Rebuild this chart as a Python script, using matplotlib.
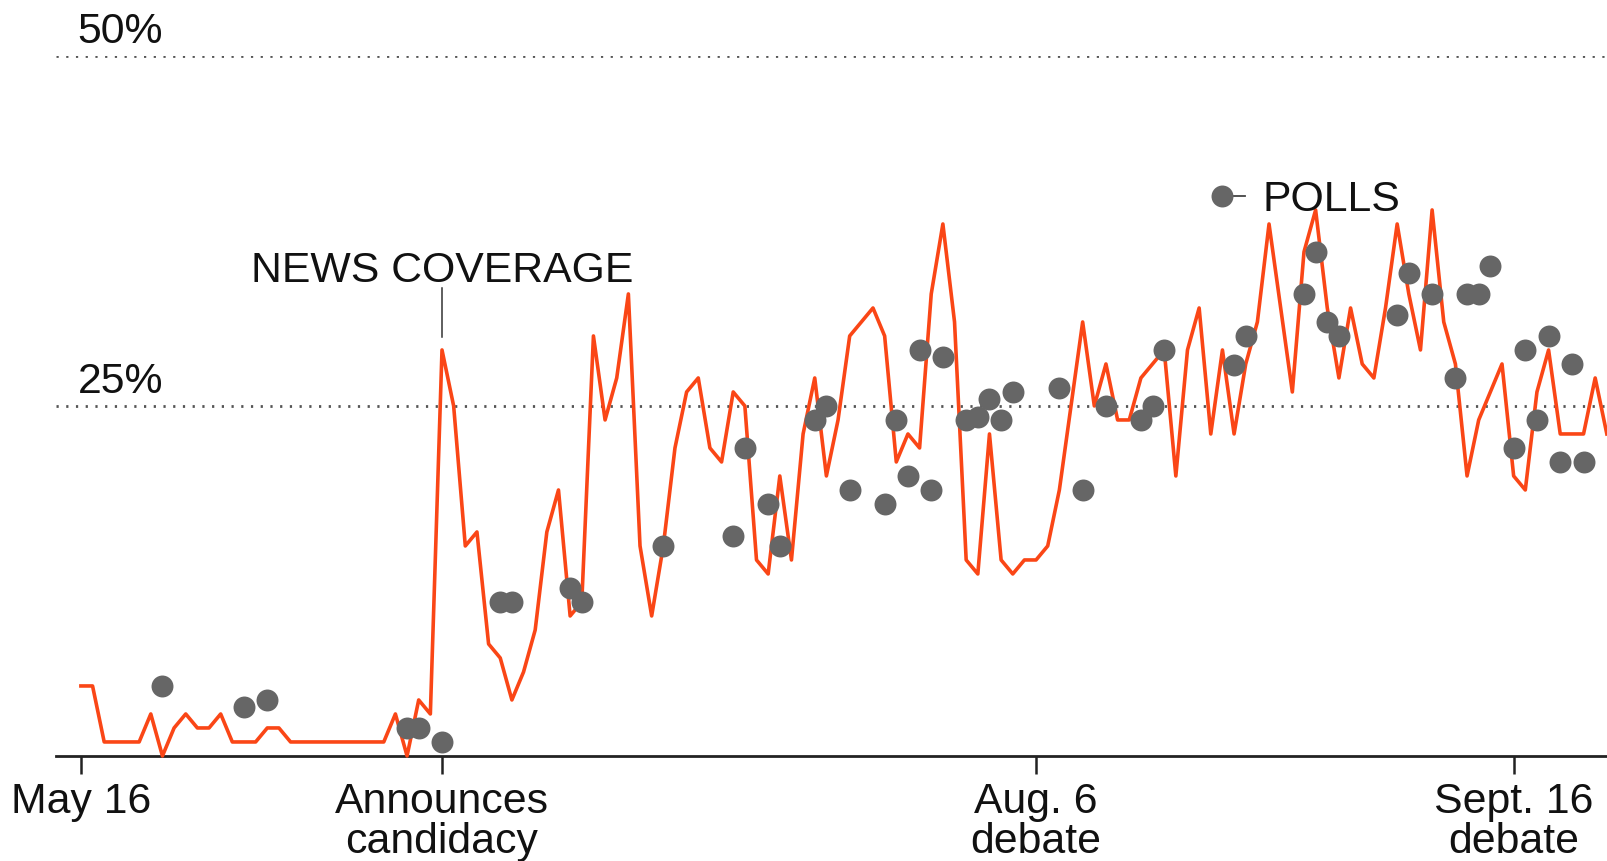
import matplotlib.pyplot as plt

plt.rcParams['font.family'] = ['Liberation Sans', 'DejaVu Sans']

# daily share of news coverage, starting May 16 (day 0)
coverage = [5, 5, 1, 1, 1, 1, 3, 0, 2, 3, 2, 2, 3, 1, 1, 1, 2, 2, 1, 1,
            1, 1, 1, 1, 1, 1, 1, 3, 0, 4, 3, 29, 25, 15, 16, 8, 7, 4, 6, 9,
            16, 19, 10, 11, 30, 24, 27, 33, 15, 10, 15, 22, 26, 27, 22, 21, 26, 25, 14, 13,
            20, 14, 23, 27, 20, 24, 30, 31, 32, 30, 21, 23, 22, 33, 38, 31, 14, 13, 23, 14,
            13, 14, 14, 15, 19, 25, 31, 25, 28, 24, 24, 27, 28, 29, 20, 29, 32, 23, 29, 23,
            28, 31, 38, 32, 26, 36, 39, 32, 27, 32, 28, 27, 32, 38, 33, 29, 39, 31, 28, 20,
            24, 26, 28, 20, 19, 26, 29, 23, 23, 23, 27, 23]
days = list(range(len(coverage)))

# polls (day offset from May 16, percent)
poll_days = [7, 14, 16, 28, 29, 31, 36, 37, 42, 43, 50, 56, 57, 59, 60, 63, 64, 66,
             69, 70, 71, 72, 73, 74, 76, 77, 78, 79, 80, 84, 86, 88, 91, 92, 93,
             99, 100, 105, 106, 107, 108, 113, 114, 116, 118, 119, 120, 121,
             123, 124, 125, 126, 127, 128, 129]
poll_values = [5, 3.5, 4, 2, 2, 1, 11, 11, 12, 11, 15, 15.7, 22, 18, 15, 24, 25, 19,
               18, 24, 20, 29, 19, 28.5, 24, 24.2, 25.5, 24, 26, 26.3, 19, 25, 24, 25, 29,
               27.9, 30, 33, 36, 31, 30, 31.5, 34.5, 33, 27, 33, 33, 35,
               22, 29, 24, 30, 21, 28, 21]

tick_days = [0, 31, 82, 123]
tick_labels = ['May 16', 'Announces\ncandidacy', 'Aug. 6\ndebate', 'Sept. 16\ndebate']

line_color = '#fa4616'
dot_color = '#666666'
fs = 30.8

fig = plt.figure(figsize=(16.08, 8.61), dpi=100)
ax = fig.add_axes([0.0351, 0.122, 0.9649, 0.813])

for y in [25, 50]:
    ax.axhline(y, color='#555555', lw=2.0, linestyle=(0, (0.8, 2.7)), zorder=1)
    ax.text(-0.3, y + 0.95, f'{y}%', ha='left', va='baseline', fontsize=fs, color='#111111')

ax.plot(days, coverage, color=line_color, lw=2.6, zorder=3, clip_on=False)
ax.plot(poll_days, poll_values, 'o', color=dot_color, ms=15.8, mec='none', zorder=4, clip_on=False)

# labels
ax.plot([31, 31], [29.9, 33.4], color='#333333', lw=1.1)
ax.text(31, 33.85, 'NEWS COVERAGE', ha='center', va='baseline', fontsize=fs, color='#111111')
ax.plot([98, 99.95], [40, 40], color='#444444', lw=1.3, zorder=4)
ax.plot([98], [40], 'o', color=dot_color, ms=15.8, mec='none', zorder=5)
ax.text(101.4, 38.9, 'POLLS', ha='left', va='baseline', fontsize=fs, color='#111111')

ax.set_xlim(-2.1, 131.1)
ax.set_ylim(0, 50)
for s in ['top', 'right', 'left']:
    ax.spines[s].set_visible(False)
ax.spines['bottom'].set_linewidth(2.0)
ax.spines['bottom'].set_color('#222222')
ax.set_yticks([])
ax.set_xticks(tick_days)
ax.set_xticklabels(tick_labels, fontsize=fs, linespacing=0.98, color='#111111')
ax.tick_params(axis='x', length=13, width=1.8, color='#222222', pad=6)

fig.savefig('out.png', dpi=100)
